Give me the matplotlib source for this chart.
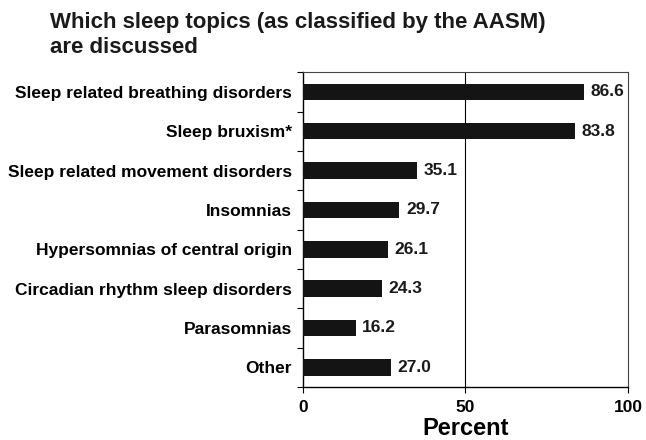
import numpy as np
import matplotlib
matplotlib.use("Agg")
import matplotlib.pyplot as plt

plt.rcParams['font.family'] = ['Liberation Sans', 'DejaVu Sans']
plt.rcParams['font.weight'] = 'bold'

topics = ["Sleep related breathing disorders", "Sleep bruxism*",
          "Sleep related movement disorders", "Insomnias",
          "Hypersomnias of central origin", "Circadian rhythm sleep disorders",
          "Parasomnias", "Other"]
percent = [86.6, 83.8, 35.1, 29.7, 26.1, 24.3, 16.2, 27.0]
x_ticks = [0, 50, 100]

fig = plt.figure(figsize=(6.46, 4.4), dpi=100)
ax = fig.add_axes([0.469, 0.1205, 0.503, 0.7155])

y = np.arange(len(topics))
ax.barh(y, percent, height=0.42, color="#141414", zorder=3)
for yi, v in zip(y, percent):
    ax.text(v + 2.0, yi, f"{v:.1f}", va="center", ha="left",
            fontsize=12.5, fontweight="bold", color="#1a1a1a")

ax.set_xlim(0, 100)
ax.set_ylim(len(topics) - 0.5, -0.5)
ax.set_xticks(x_ticks)
ax.set_xticklabels([str(t) for t in x_ticks], fontsize=12.5, fontweight="bold")
ax.set_yticks(y)
ax.set_yticklabels(topics, fontsize=12.5, fontweight="bold")
ax.tick_params(axis="y", which="major", length=0, pad=8)
ax.set_yticks(np.arange(-0.5, len(topics), 1.0), minor=True)
ax.tick_params(axis="y", which="minor", length=4.5, direction="out", width=0.8)
ax.tick_params(axis="x", length=4.5, width=0.8, pad=5)
ax.axvline(50, color="black", lw=0.8, zorder=2)

for side in ["left", "bottom"]:
    ax.spines[side].set_linewidth(1.0)
for side in ["top", "right"]:
    ax.spines[side].set_linewidth(0.8)
    ax.spines[side].set_color("#444444")

ax.set_xlabel("Percent", fontsize=17, fontweight="bold", labelpad=1.5)

fig.text(0.078, 0.972, "Which sleep topics (as classified by the AASM)\nare discussed",
         fontsize=16, fontweight="bold", ha="left", va="top", linespacing=1.2,
         color="#1a1a1a")

fig.savefig("out.png", dpi=100)
